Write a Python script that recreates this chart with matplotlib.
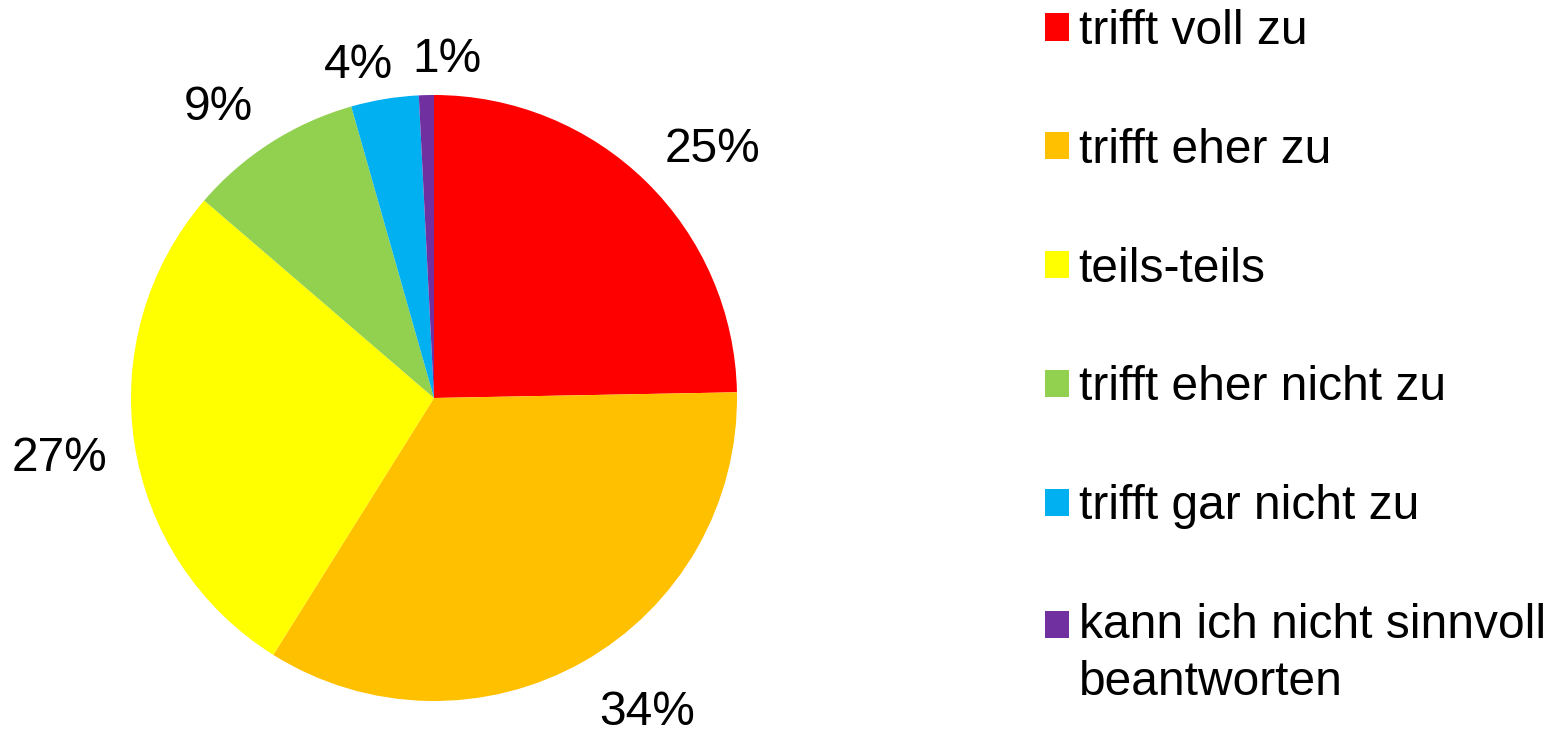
import matplotlib
matplotlib.use("Agg")
import matplotlib.pyplot as plt
from matplotlib.patches import Patch
import numpy as np

plt.rcParams["font.family"] = ["Liberation Sans", "DejaVu Sans"]

# data
categories = [
    "trifft voll zu",
    "trifft eher zu",
    "teils-teils",
    "trifft eher nicht zu",
    "trifft gar nicht zu",
    "kann ich nicht sinnvoll\nbeantworten",
]
shares = [24.7, 34.2, 27.4, 9.3, 3.6, 0.8]
colors = ["#FF0000", "#FFC000", "#FFFF00", "#92D050", "#00B0F0", "#7030A0"]
# label placement (radius factor, angle nudge in degrees) like the original's best fit
label_dist = [1.243, 1.241, 1.248, 1.207, 1.143, 1.133]
label_nudge = [-3.3, 5.0, -0.2, 3.6, 3.3, -3.6]

W, H = 1564, 729
fs = 34.5
fig = plt.figure(figsize=(W / 100, H / 100), dpi=100)

cx, cy, r = 434, 398, 303
ax = fig.add_axes([(cx - r) / W, (H - cy - r) / H, 2 * r / W, 2 * r / H])

wedges, _ = ax.pie(shares, colors=colors, startangle=90, counterclock=False,
                   radius=1, wedgeprops=dict(linewidth=0))
ax.set_xlim(-1, 1)
ax.set_ylim(-1, 1)
ax.set_aspect("equal")
ax.axis("off")

# percent labels outside the pie
for w, val, d, nd in zip(wedges, shares, label_dist, label_nudge):
    ang = np.deg2rad((w.theta1 + w.theta2) / 2 + nd)
    ax.text(d * np.cos(ang), d * np.sin(ang), f"{round(val):.0f}%",
            ha="center", va="center_baseline", fontsize=fs)

handles = [Patch(facecolor=c, edgecolor="none") for c in colors]
leg = fig.legend(handles, categories, loc="upper left",
                 bbox_to_anchor=(1045 / W, 1 - 9 / H), frameon=False,
                 fontsize=fs, handlelength=0.5, handleheight=0.5,
                 handletextpad=0.2, labelspacing=1.54, borderaxespad=0,
                 borderpad=0)
leg.get_texts()[-1].set_linespacing(1.34)
# keep the marker of the two-line entry next to its first line
last = leg.legend_handles[-1]
last.set_y(last.get_y() + 0.62 * fs)

fig.savefig("out.png", dpi=100, facecolor="white")
